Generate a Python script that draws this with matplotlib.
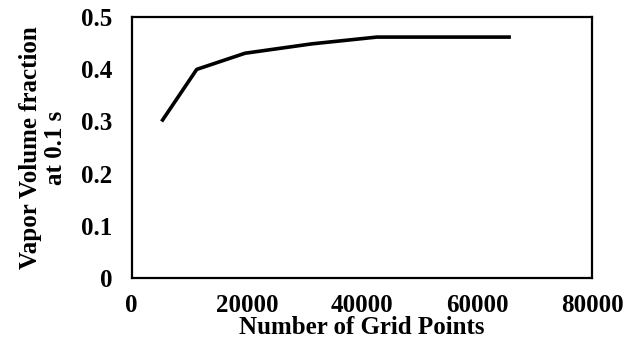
import matplotlib
matplotlib.use("Agg")
import matplotlib.pyplot as plt

grid_points = [5200, 11300, 19700, 31300, 42600, 54000, 65900]
vapor_fraction = [0.30, 0.40, 0.431, 0.449, 0.462, 0.462, 0.462]
x_ticks = [0, 20000, 40000, 60000, 80000]
y_ticks = [0, 0.1, 0.2, 0.3, 0.4, 0.5]
y_tick_labels = ["0", "0.1", "0.2", "0.3", "0.4", "0.5"]

plt.rcParams['font.family'] = ['Liberation Serif', 'DejaVu Serif']
plt.rcParams['font.weight'] = 'bold'

fig = plt.figure(figsize=(6.35, 3.39), dpi=100)
L, R, T, B = 131.7, 592.0, 17.3, 277.7
ax = fig.add_axes([L/635, 1-B/339, (R-L)/635, (B-T)/339])

ax.plot(grid_points, vapor_fraction, color='black', linewidth=2.6, solid_capstyle='butt')
ax.set_xlim(0, 80000)
ax.set_ylim(0, 0.5)
ax.set_xticks(x_ticks)
ax.set_xticklabels([str(t) for t in x_ticks])
ax.set_yticks(y_ticks)
ax.set_yticklabels(y_tick_labels)
ax.tick_params(length=0, labelsize=18, pad=14)
ax.tick_params(axis='x', pad=11.5)
for s in ax.spines.values():
    s.set_linewidth(1.6)
    s.set_color('black')

ax.set_xlabel("Number of Grid Points", fontsize=18, fontweight='bold')
ax.xaxis.label.set_va('baseline')
ax.xaxis.set_label_coords(0.5, (B-334)/(B-T))

ax.set_ylabel("Vapor Volume fraction\nat 0.1 s", fontsize=18, fontweight='bold',
              linespacing=1.1)
ax.yaxis.set_label_coords((67-L)/(R-L), 0.5)

fig.savefig("out.png", dpi=100)
